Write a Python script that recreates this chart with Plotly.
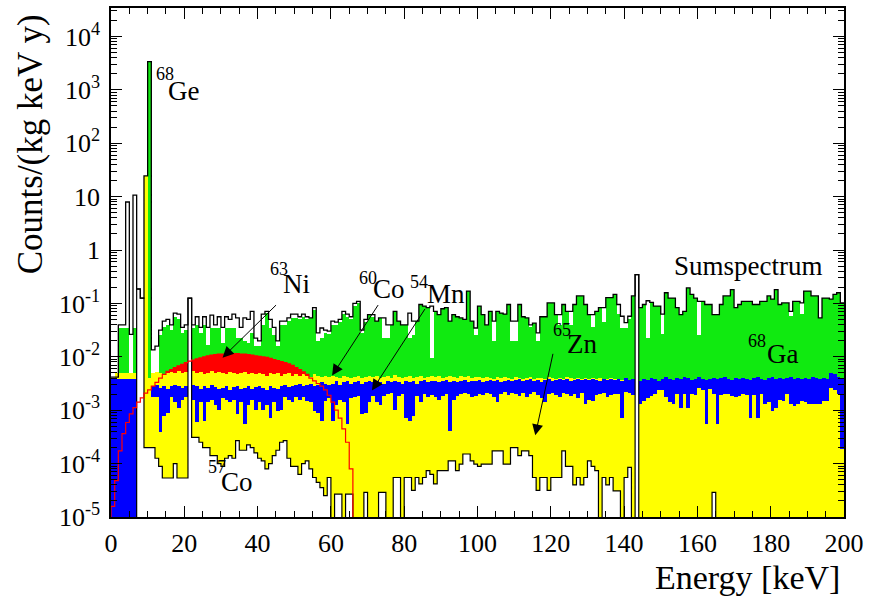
import plotly.graph_objects as go

# ---------------- data (1 keV bins, values as log10 of counts/(kg keV y)) ----------------
energy_lo = list(range(200))          # lower bin edge in keV

sum_log = [
    -2.38, -2.38, -1.40, -1.40, 0.90, -1.58, 1.03, -0.73, -0.90, 1.39,
    3.53, -1.87, -1.80, -1.50, -1.33, -1.30, -1.40, -1.18, -1.20, -1.45,
    -1.40, -0.90, -1.40, -1.25, -1.45, -1.25, -1.45, -1.22, -1.40, -1.25,
    -1.45, -1.25, -1.30, -1.20, -1.27, -1.45, -1.27, -1.30, -1.15, -1.65,
    -1.70, -1.20, -1.15, -1.30, -1.45, -1.70, -1.33, -1.33, -1.27, -1.20,
    -1.20, -1.25, -1.20, -1.25, -1.27, -1.08, -1.55, -1.46, -1.50, -1.52,
    -1.33, -1.35, -1.30, -1.15, -1.20, -1.25, -1.00, -0.96, -1.50, -1.30,
    -1.21, -1.21, -1.33, -1.27, -1.27, -1.40, -1.40, -1.15, -1.33, -1.40,
    -1.40, -1.18, -1.33, -1.33, -1.02, -1.05, -1.08, -1.05, -1.15, -1.21,
    -1.10, -1.08, -1.33, -1.21, -1.25, -1.27, -1.30, -0.77, -1.33, -1.46,
    -1.05, -1.21, -1.40, -1.15, -1.33, -1.15, -1.18, -1.20, -1.02, -1.33,
    -1.33, -1.02, -1.25, -1.27, -1.40, -1.37, -1.55, -1.25, -1.25, -0.99,
    -0.99, -1.21, -1.21, -1.02, -1.15, -1.15, -1.02, -0.86, -0.86, -1.02,
    -1.21, -1.21, -1.15, -1.08, -1.08, -0.89, -0.89, -0.83, -1.02, -1.24,
    -1.36, -1.24, -0.86, -0.46, -1.08, -1.02, -0.95, -0.98, -1.05, -1.05,
    -1.20, -0.80, -0.90, -0.90, -1.08, -1.21, -1.15, -0.71, -0.83, -0.90,
    -0.96, -0.96, -1.02, -1.02, -1.21, -1.21, -1.02, -0.86, -0.86, -0.74,
    -1.08, -1.02, -0.96, -0.96, -0.96, -1.02, -1.02, -0.96, -0.96, -0.86,
    -0.92, -0.74, -1.02, -0.99, -0.99, -1.15, -0.96, -0.96, -0.99, -0.77,
    -0.77, -0.86, -0.86, -1.27, -0.90, -0.90, -0.92, -0.83, -0.80, -0.99,
]

ga68_log = [
    None, None, -1.46, -1.46, -1.46, None, -1.46, None, None, None,
    3.53, -2.60, -2.60, -1.60, -1.45, -1.40, -1.50, -1.25, -1.30, -1.55,
    -1.50, -1.50, -1.46, -1.40, -1.55, -1.40, -1.77, -1.46, -1.46, -1.46,
    -1.75, -1.46, -1.46, -1.46, -1.65, -1.65, -1.70, -1.75, -1.55, -1.80,
    -1.80, -1.40, -1.18, -1.46, -1.60, -1.80, -1.40, -1.40, -1.33, -1.27,
    -1.27, -1.30, -1.25, -1.30, -1.27, -1.12, -1.70, -1.65, -1.55, -1.58,
    -1.40, -1.40, -1.35, -1.20, -1.25, -1.30, -1.05, -1.00, -1.55, -1.35,
    -1.21, -1.25, -1.33, -1.27, -1.65, -1.65, -1.40, -1.15, -1.33, -1.40,
    -1.40, -1.65, -1.60, -1.33, -1.02, -1.05, -1.08, -2.02, -1.15, -1.21,
    -1.10, -1.08, -1.33, -1.21, -1.25, -1.27, -1.30, -0.77, -1.33, -1.60,
    -1.05, -1.21, -1.40, -1.15, -1.71, -1.15, -1.18, -1.20, -1.02, -1.71,
    -1.71, -1.02, -1.25, -1.27, -1.45, -1.37, -1.71, -1.25, -1.25, -0.99,
    -0.99, -1.21, -1.40, -1.02, -1.15, -1.40, -1.02, -0.86, -0.86, -1.02,
    -1.21, -1.45, -1.15, -1.08, -1.35, -0.89, -0.89, -0.83, -1.20, -1.46,
    -1.46, -1.30, -0.86, None, -1.08, -1.02, -1.65, -0.98, -1.05, -1.05,
    -1.58, -0.80, -0.90, -0.90, -1.08, -1.21, -1.15, -0.71, -0.83, -0.90,
    -1.60, -0.96, -1.02, -1.02, -1.21, -1.21, -1.02, -0.86, -0.86, -0.74,
    -1.08, -1.02, -0.96, -0.96, -0.96, -1.02, -1.02, -0.96, -0.96, -0.86,
    -0.92, -0.74, -1.02, -0.99, -0.99, -1.24, -0.96, -0.96, -1.20, -0.77,
    -0.77, -0.86, -0.86, -1.27, -0.90, -0.90, -0.92, -0.83, -0.80, -0.99,
]

ni63_log = [
    -4.80, -4.32, -3.76, -3.44, -3.23, -3.07, -2.95, -2.85, -2.77, -2.68,
    -2.62, -2.55, -2.48, -2.40, -2.33, -2.27, -2.24, -2.20, -2.17, -2.14,
    -2.11, -2.08, -2.06, -2.04, -2.02, -2.00, -1.98, -1.97, -1.96, -1.95,
    -1.95, -1.94, -1.94, -1.94, -1.94, -1.95, -1.95, -1.96, -1.97, -1.98,
    -1.99, -2.00, -2.01, -2.03, -2.05, -2.07, -2.09, -2.11, -2.13, -2.16,
    -2.20, -2.24, -2.28, -2.33, -2.40, -2.45, -2.50, -2.55, -2.62, -2.72,
    -2.85, -3.00, -3.15, -3.35, -3.60, -4.10,
] + [None] * 134

co60_log = [
    None, -2.30, -2.30, -2.30, -2.30, -2.30, -2.30, -2.30, -2.30, 1.39,
    -2.40, -2.30, -2.28, -2.30, -2.32, -2.30, -2.28, -2.30, -2.27, -2.30,
    -2.28, -2.30, -2.27, -2.30, -2.28, -2.32, -2.30, -2.27, -2.30, -2.28,
    -2.30, -2.33, -2.28, -2.30, -2.32, -2.30, -2.28, -2.33, -2.30, -2.32,
    -2.30, -2.33, -2.35, -2.30, -2.33, -2.30, -2.35, -2.33, -2.30, -2.35,
    -2.33, -2.36, -2.33, -2.35, -2.38, -2.33, -2.36, -2.38, -2.35, -2.38,
    -2.36, -2.38, -2.40, -2.36, -2.38, -2.40, -2.38, -2.36, -2.40, -2.38,
    -2.36, -2.38, -2.35, -2.40, -2.37, -2.36, -2.39, -2.34, -2.38, -2.40,
    -2.37, -2.35, -2.39, -2.38, -2.36, -2.40, -2.37, -2.35, -2.38, -2.36,
    -2.39, -2.37, -2.35, -2.38, -2.40, -2.36, -2.38, -2.35, -2.39, -2.37,
    -2.38, -2.40, -2.37, -2.39, -2.41, -2.38, -2.40, -2.37, -2.39, -2.41,
    -2.38, -2.40, -2.42, -2.39, -2.37, -2.41, -2.39, -2.40, -2.42, -2.38,
    -2.40, -2.42, -2.39, -2.41, -2.38, -2.40, -2.42, -2.39, -2.41, -2.40,
    -2.42, -2.39, -2.41, -2.40, -2.42, -2.41, -2.40, -2.42, -2.41, -2.43,
] + [-2.45] * 60

mn54_log = [
    -2.42, -2.42, -2.42, -2.42, -2.42, -2.42, -2.42, None, None, None,
    None, -2.55, -2.52, -2.58, -2.55, -2.60, -2.55, -2.52, -2.55, -2.58,
    -2.55, -2.58, -2.52, -2.55, -2.60, -2.55, -2.58, -2.52, -2.56, -2.60,
    -2.58, -2.55, -2.62, -2.56, -2.55, -2.60, -2.58, -2.55, -2.60, -2.56,
    -2.55, -2.58, -2.62, -2.55, -2.58, -2.60, -2.55, -2.52, -2.56, -2.55,
    -2.52, -2.50, -2.55, -2.52, -2.50, -2.55, -2.52, -2.48, -2.50, -2.52,
    -2.50, -2.46, -2.52, -2.48, -2.46, -2.50, -2.47, -2.45, -2.50, -2.47,
    -2.46, -2.48, -2.45, -2.47, -2.50, -2.46, -2.48, -2.45, -2.47, -2.50,
    -2.46, -2.48, -2.45, -2.50, -2.46, -2.44, -2.48, -2.46, -2.45, -2.48,
    -2.46, -2.44, -2.47, -2.45, -2.48, -2.46, -2.44, -2.47, -2.45, -2.46,
    -2.44, -2.47, -2.45, -2.43, -2.46, -2.44, -2.48, -2.45, -2.43, -2.46,
    -2.44, -2.42, -2.46, -2.44, -2.42, -2.45, -2.43, -2.47, -2.44, -2.42,
    -2.45, -2.43, -2.41, -2.44, -2.42, -2.46, -2.43, -2.41, -2.44, -2.42,
    -2.44, -2.41, -2.43, -2.45, -2.42, -2.44, -2.41, -2.43, -2.42, -2.45,
    -2.40, -2.43, -2.41, None, -2.45, -2.42, -2.44, -2.40, -2.42, -2.45,
    -2.42, -2.38, -2.42, -2.44, -2.40, -2.42, -2.37, -2.40, -2.43, -2.41,
    -2.38, -2.42, -2.44, -2.41, -2.39, -2.42, -2.40, -2.37, -2.41, -2.43,
    -2.40, -2.42, -2.39, -2.41, -2.44, -2.40, -2.38, -2.41, -2.43, -2.40,
    -2.38, -2.41, -2.39, -2.42, -2.40, -2.37, -2.41, -2.39, -2.42, -2.40,
    -2.41, -2.38, -2.40, -2.42, -2.39, -2.41, -2.30, -2.33, -2.38, -2.40,
]

zn65_log = [
    None, None, None, None, None, None, None, None, None, None,
    None, -2.76, -2.76, -3.40, -3.10, -3.05, -2.76, -2.85, -2.95, -2.80,
    -2.75, -2.78, -2.80, -3.23, -2.85, -3.20, -2.85, -2.80, -2.90, -3.00,
    -2.78, -2.80, -2.85, -2.80, -3.07, -2.85, -3.26, -2.90, -2.80, -3.00,
    -2.85, -3.00, -2.90, -3.15, -2.85, -3.01, -3.00, -2.75, -2.80, -2.85,
    -2.75, -2.80, -2.75, -2.82, -2.85, -3.01, -3.05, -3.20, -2.82, -2.78,
    -3.20, -2.90, -2.80, -2.85, -3.26, -2.78, -2.75, -2.73, -3.07, -3.05,
    -2.85, -2.73, -2.85, -2.90, -2.73, -2.70, -2.68, -3.00, -2.73, -2.70,
    -3.15, -3.20, -3.10, -2.73, -2.85, -2.70, -2.75, -2.72, -2.75, -2.80,
    -2.73, -2.70, -3.39, -2.80, -2.73, -2.70, -2.68, -2.70, -2.75, -2.73,
    -2.70, -2.72, -2.68, -2.70, -2.75, -2.85, -2.70, -2.66, -2.72, -2.68,
    -2.70, -2.73, -2.68, -2.75, -2.70, -2.66, -2.72, -2.78, -2.85, -2.70,
    -2.68, -2.72, -2.75, -2.68, -2.70, -2.73, -2.70, -2.78, -2.68, -2.88,
    -2.80, -2.82, -2.72, -2.70, -2.68, -2.75, -2.72, -2.70, -2.70, -3.14,
    -2.65, -2.68, -2.72, None, -2.88, -2.82, -2.77, -2.74, -2.70, -2.62,
    -2.62, -2.76, -2.85, -2.89, -2.70, -2.95, -2.70, -2.95, -2.70, -2.72,
    -2.58, -2.62, -3.26, -2.60, -2.70, -3.26, -2.72, -2.70, -2.70, -2.73,
    -2.75, -2.73, -2.70, -2.72, -3.14, -2.72, -3.14, -2.70, -2.88, -2.85,
    -3.01, -2.95, -2.80, -2.82, -2.70, -2.88, -2.92, -2.89, -2.83, -2.85,
    -2.89, -2.89, -2.89, -2.89, -2.83, -2.83, -2.58, -2.62, -2.70, -3.73,
]

co57_log = [
    None, None, None, None, None, None, None, -0.73, -0.90, -3.70,
    -3.70, -3.70, -3.90, -4.05, -4.27, -4.27, -4.27, -4.00, -4.27, -4.27,
    -4.27, -0.90, -3.51, -3.51, -3.60, -3.70, -3.70, -3.85, -3.85, -4.00,
    -4.05, -3.90, -3.85, -3.90, -3.57, -3.75, -3.75, -3.65, -3.70, -3.80,
    -3.90, -3.95, -4.10, -4.00, -3.85, -3.75, -3.60, -3.57, -3.90, -4.05,
    -4.05, -4.20, -4.00, -3.95, -4.10, -4.26, -4.35, -4.45, -4.60, -4.26,
    None, -4.57, -4.57, None, -4.57, -4.57, None, None, None, -4.54,
    None, None, None, -4.54, -4.54, None, None, -4.26, -4.26, None,
    -4.26, -4.26, -4.50, -4.26, -4.38, -4.26, -4.13, -4.20, -4.38, -4.13,
    -4.13, -4.13, -3.95, -3.95, -4.13, -4.01, -3.82, -3.82, -3.95, -4.01,
    -4.05, -4.01, -4.01, -4.01, -3.76, -3.76, -3.76, -4.01, -4.01, -3.70,
    -3.70, -3.85, -3.76, -3.76, -3.85, -4.26, -4.50, -4.26, -4.26, -4.50,
    -4.26, -4.26, -4.26, -3.76, -4.05, -4.05, -4.40, -4.26, -4.40, -4.26,
    -3.95, -4.05, -4.13, None, -4.26, -4.40, -4.26, -4.51, -4.51, None,
    -4.26, -4.07, None, -0.46, None, None, None, None, None, None,
    None, None, None, None, None, None, None, None, None, None,
    None, None, None, None, -4.54, None, None, None, None, None,
] + [None] * 30

y_tick_exp = [-5, -4, -3, -2, -1, 0, 1, 2, 3, 4]
y_tick_text = ["10<sup>-5</sup>", "10<sup>-4</sup>", "10<sup>-3</sup>", "10<sup>-2</sup>",
               "10<sup>-1</sup>", "1", "10", "10<sup>2</sup>", "10<sup>3</sup>", "10<sup>4</sup>"]
x_tick_vals = [0, 20, 40, 60, 80, 100, 120, 140, 160, 180, 200]

# ---------------- helpers ----------------
centers = [e + 0.5 for e in energy_lo]
edges = energy_lo + [energy_lo[-1] + 1]
FLOOR = 1e-12
SERIF = "Liberation Serif, Times New Roman, Times, DejaVu Serif, serif"


def lin(arr):
    return [None if v is None else 10 ** v for v in arr]


def step(arr, lead_floor=False):
    ys = [FLOOR if v is None else 10 ** v for v in arr]
    ys = ys + [ys[-1]]
    xs = list(edges)
    if lead_floor:
        xs = [edges[0]] + xs
        ys = [FLOOR] + ys
    return xs, ys


def bars(arr, color):
    return go.Bar(x=centers, y=lin(arr), width=1.0, marker=dict(color=color, line=dict(width=0)),
                  hoverinfo="skip")


GREEN = "#10ea10"
YELLOW = "#ffff00"
BLUE = "#0000ff"
RED = "#ff0000"

fig = go.Figure()
fig.add_trace(bars(ga68_log, GREEN))
fig.add_trace(bars(ni63_log, RED))
fig.add_trace(bars(co60_log, YELLOW))
fig.add_trace(bars(mn54_log, BLUE))
fig.add_trace(bars(zn65_log, YELLOW))
fig.add_trace(bars(co57_log, "#ffffff"))

xs, ys = step(co57_log, lead_floor=True)
fig.add_trace(go.Scatter(x=xs, y=ys, mode="lines", line=dict(color="black", width=1.2, shape="hv"),
                         hoverinfo="skip"))
xs, ys = step(ni63_log, lead_floor=True)
fig.add_trace(go.Scatter(x=xs, y=ys, mode="lines", line=dict(color=RED, width=1.2, shape="hv"),
                         hoverinfo="skip"))
xs, ys = step(sum_log)
fig.add_trace(go.Scatter(x=xs, y=ys, mode="lines", line=dict(color="black", width=1.3, shape="hv"),
                         hoverinfo="skip"))

# ---------------- layout ----------------
L, R, T, B = 111, 23, 6, 81
W, H = 870, 598
PW, PH = W - L - R, H - T - B


def px(xpix):
    return (xpix - L) / PW


def py(ypix):
    return (H - B - ypix) / PH


minor_y = [k * 10.0 ** d for d in range(-5, 5) for k in range(2, 10)]

fig.update_layout(
    width=W, height=H,
    margin=dict(l=L, r=R, t=T, b=B),
    paper_bgcolor="white", plot_bgcolor="white",
    barmode="overlay", bargap=0, showlegend=False,
    font=dict(family=SERIF, color="black"),
    xaxis=dict(
        range=[0, 200], tickvals=x_tick_vals, ticks="inside", ticklen=11, tickwidth=1,
        tickcolor="black", showline=True, linecolor="black", linewidth=1.5, mirror="ticks",
        showgrid=False, zeroline=False, tickfont=dict(size=26, family=SERIF),
        ticklabelstandoff=2,
        minor=dict(ticks="inside", ticklen=6, dtick=5, tickcolor="black", showgrid=False),
    ),
    yaxis=dict(
        type="log", range=[-5, 4.533],
        tickvals=[10.0 ** k for k in y_tick_exp], ticktext=y_tick_text,
        ticks="inside", ticklen=11, tickwidth=1, tickcolor="black",
        showline=True, linecolor="black", linewidth=1.5, mirror="ticks",
        showgrid=False, zeroline=False, tickfont=dict(size=26, family=SERIF),
        ticklabelstandoff=4,
        minor=dict(ticks="inside", ticklen=6, tickvals=minor_y, tickcolor="black", showgrid=False),
    ),
)

annotations = []


def txt(text, xpix, ypix, size, xanchor="center", yanchor="middle", angle=0):
    annotations.append(dict(text=text, x=px(xpix), y=py(ypix), xref="paper", yref="paper",
                            showarrow=False, xanchor=xanchor, yanchor=yanchor, textangle=angle,
                            font=dict(size=size, family=SERIF, color="black")))


def arrow(hx, hy, tx, ty):
    annotations.append(dict(text="", x=px(hx), y=py(hy), xref="paper", yref="paper",
                            ax=tx - hx, ay=ty - hy, showarrow=True, arrowhead=2,
                            arrowsize=2.2, arrowwidth=1, arrowcolor="black", standoff=0))


# axis titles
txt("Energy [keV]", 845, 578, 34, xanchor="right")
txt("Counts/(kg keV y)", 31, 10, 35, yanchor="top", angle=-90)

# isotope labels
SUP, EL = 18, 27
txt("68", 165, 72, SUP); txt("Ge", 184, 89, EL)
txt("63", 280, 268, SUP); txt("Ni", 297, 283, EL)
txt("60", 369, 277, SUP); txt("Co", 390, 288, EL)
txt("54", 420, 281, SUP); txt("Mn", 447, 293, EL)
txt("65", 564, 329, SUP); txt("Zn", 584, 343, EL)
txt("68", 760, 340, SUP); txt("Ga", 785, 353, EL)
txt("57", 217, 467, SUP); txt("Co", 238, 482, EL)
txt("Sumspectrum", 751, 265, EL)

arrow(223, 357, 278, 303)
arrow(333, 375, 380, 303)
arrow(373, 390, 427, 307)
arrow(537, 435, 555, 352)

fig.update_layout(annotations=annotations)
fig.write_html("out.html", config={"displayModeBar": False},
               post_script="document.body.style.margin='0px';")
